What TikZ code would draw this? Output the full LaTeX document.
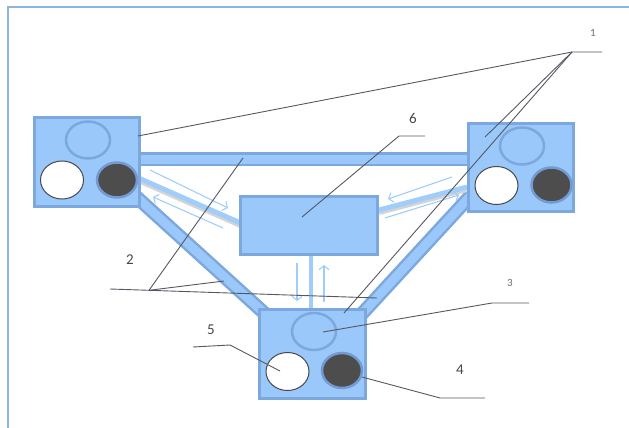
\documentclass[tikz,border=0pt]{standalone}
\usepackage{fontspec}
\setmainfont{Carlito}
\usetikzlibrary{shapes.geometric,arrows.meta}
\pgfdeclarelayer{under}
\pgfsetlayers{under,main}
\definecolor{panel}{RGB}{155,200,250}
\definecolor{rim}{RGB}{125,168,222}
\definecolor{framec}{RGB}{141,180,226}
\definecolor{lead}{RGB}{85,88,98}
\definecolor{flow}{RGB}{160,205,250}
\definecolor{ink}{RGB}{70,72,78}
\definecolor{coal}{RGB}{77,77,77}
\definecolor{glow}{RGB}{115,155,210}

\begin{document}
\begin{tikzpicture}[x=1pt,y=-1pt,
  unit/.style={rectangle, draw=rim, fill=panel, line width=2.5pt, inner sep=0pt, outer sep=0pt},
  lens/.style={ellipse, draw=rim, line width=2.5pt, inner sep=0pt, minimum width=44pt, minimum height=37pt},
  hole/.style={ellipse, draw=ink, fill=white, line width=1pt, inner sep=0pt, minimum width=43pt, minimum height=38pt},
  plug/.style={ellipse, draw=glow, fill=coal, line width=2.5pt, inner sep=0pt, minimum width=40pt, minimum height=35pt},
  beam/.style={draw=rim, double=panel, double distance=9pt, line width=2.5pt},
  duct/.style={draw=flow, line width=5pt},
  shade/.style={draw=black!17, line width=5pt},
  flowarrow/.style={draw=flow, line width=1.1pt, -{Straight Barb[length=4pt,width=10pt]}},
  leader/.style={draw=lead, line width=0.9pt},
  tag/.style={text=ink, font=\fontsize{15}{18}\selectfont, inner sep=0pt},
  smalltag/.style={text=ink!80, font=\fontsize{11}{13}\selectfont, inner sep=0pt}]
\useasboundingbox (0,0) rectangle (629,428);

% outer frame (top and left edges)
\draw[framec, line width=2.5pt] (8,428) -- (8,7) -- (629,7);

% the four units
\node[unit, minimum width=105pt, minimum height=89pt] (lbox) at (87,162) {};
\node[unit, minimum width=105pt, minimum height=88pt] (rbox) at (521,167.5) {};
\node[unit, minimum width=106pt, minimum height=89pt] (base) at (312.5,354) {};
\node[unit, minimum width=137pt, minimum height=58pt] (cbox) at (309,225.5) {};

% ports of each unit
\node[lens] (ltop) at (88,140) {};
\node[hole] (lwhite) at (62,180) {};
\node[plug] (ldark) at (117,180) {};
\node[lens] (rtop) at (522,146) {};
\node[hole] (rwhite) at (496.5,185.5) {};
\node[plug] (rdark) at (551.5,185) {};
\node[lens] (btop) at (314,331.5) {};
\node[hole] (bwhite) at (287.5,371.5) {};
\node[plug] (bdark) at (342,370.5) {};

% structural beams and ducts behind the units
\begin{pgfonlayer}{under}
  \draw[beam] ([shift={(-9.5,-3)}]lbox.east) -- ([shift={(9.5,-8.5)}]rbox.west);
  \draw[beam] ([shift={(-7.5,-13.5)}]lbox.south east) -- ([shift={(8,6.5)}]base.north west);
  \draw[beam] ([shift={(6.5,-20.5)}]rbox.south west) -- ([shift={(-6.5,7.5)}]base.north east);

  \draw[shade] ([shift={(0,19)}]lbox.east) -- ([shift={(0,0)}]cbox.west);
  \draw[duct] ([shift={(0,16.5)}]lbox.east) -- ([shift={(0,-2.5)}]cbox.west);
  \draw[shade] ([shift={(1.5,-13)}]cbox.east) -- ([shift={(-1.5,22)}]rbox.west);
  \draw[duct] ([shift={(1.5,-15.5)}]cbox.east) -- ([shift={(-1.5,19.5)}]rbox.west);
  \draw[draw=flow, line width=4pt] ([shift={(2,0)}]cbox.south) -- ([shift={(-1.5,0)}]base.north);
\end{pgfonlayer}

% flow arrows
\coordinate (a1s) at (150,170); \coordinate (a1e) at (228,208);
\coordinate (a2s) at (223,228); \coordinate (a2e) at (153,197);
\coordinate (a3s) at (452,177); \coordinate (a3e) at (388,199);
\coordinate (a4s) at (385,218); \coordinate (a4e) at (459,195);
\coordinate (a5s) at (297,263); \coordinate (a5e) at (297,301);
\coordinate (a6s) at (324,302); \coordinate (a6e) at (324,265);
\draw[flowarrow] (a1s) -- (a1e);
\draw[flowarrow] (a2s) -- (a2e);
\draw[flowarrow] (a3s) -- (a3e);
\draw[flowarrow] (a4s) -- (a4e);
\draw[flowarrow] (a5s) -- (a5e);
\draw[flowarrow] (a6s) -- (a6e);

% labels
\node[smalltag] (n1) at (593,33) {1};
\node[tag] (n2) at (130,260) {2};
\node[smalltag] (n3) at (510,283) {3};
\node[tag] (n4) at (460,370) {4};
\node[tag] (n5) at (211,330) {5};
\node[tag] (n6) at (413,118) {6};

% leader lines
\coordinate (h1) at (572,52); \coordinate (t1) at (602,52);
\draw[leader] (t1) -- (h1) -- ([shift={(51,-26)}]lbox.center);
\draw[leader] (h1) -- ([shift={(-36,-30.5)}]rbox.center);
\draw[leader] (h1) -- ([shift={(31.5,-41)}]base.center);

\coordinate (s2) at (110,289); \coordinate (h2) at (149,290.3);
\coordinate (e2a) at (377,298); \coordinate (e2b) at (243,158); \coordinate (e2c) at (224,281);
\draw[leader] (s2) -- (h2) -- (e2a);
\draw[leader] (h2) -- (e2b);
\draw[leader] (h2) -- (e2c);

\coordinate (t3) at (529,303); \coordinate (h3) at (492,303);
\draw[leader] (t3) -- (h3) -- ([shift={(9,0.5)}]btop.center);

\coordinate (t4) at (485,398); \coordinate (h4) at (440,398);
\draw[leader] (t4) -- (h4) -- ([shift={(20,6.5)}]bdark.center);

\coordinate (t5) at (193,347); \coordinate (h5) at (230,345);
\draw[leader] (t5) -- (h5) -- ([shift={(-7.5,-0.5)}]bwhite.center);

\coordinate (t6) at (425,136); \coordinate (h6) at (399,136);
\draw[leader] (t6) -- (h6) -- ([shift={(-7,-8.5)}]cbox.center);
\end{tikzpicture}
\end{document}
